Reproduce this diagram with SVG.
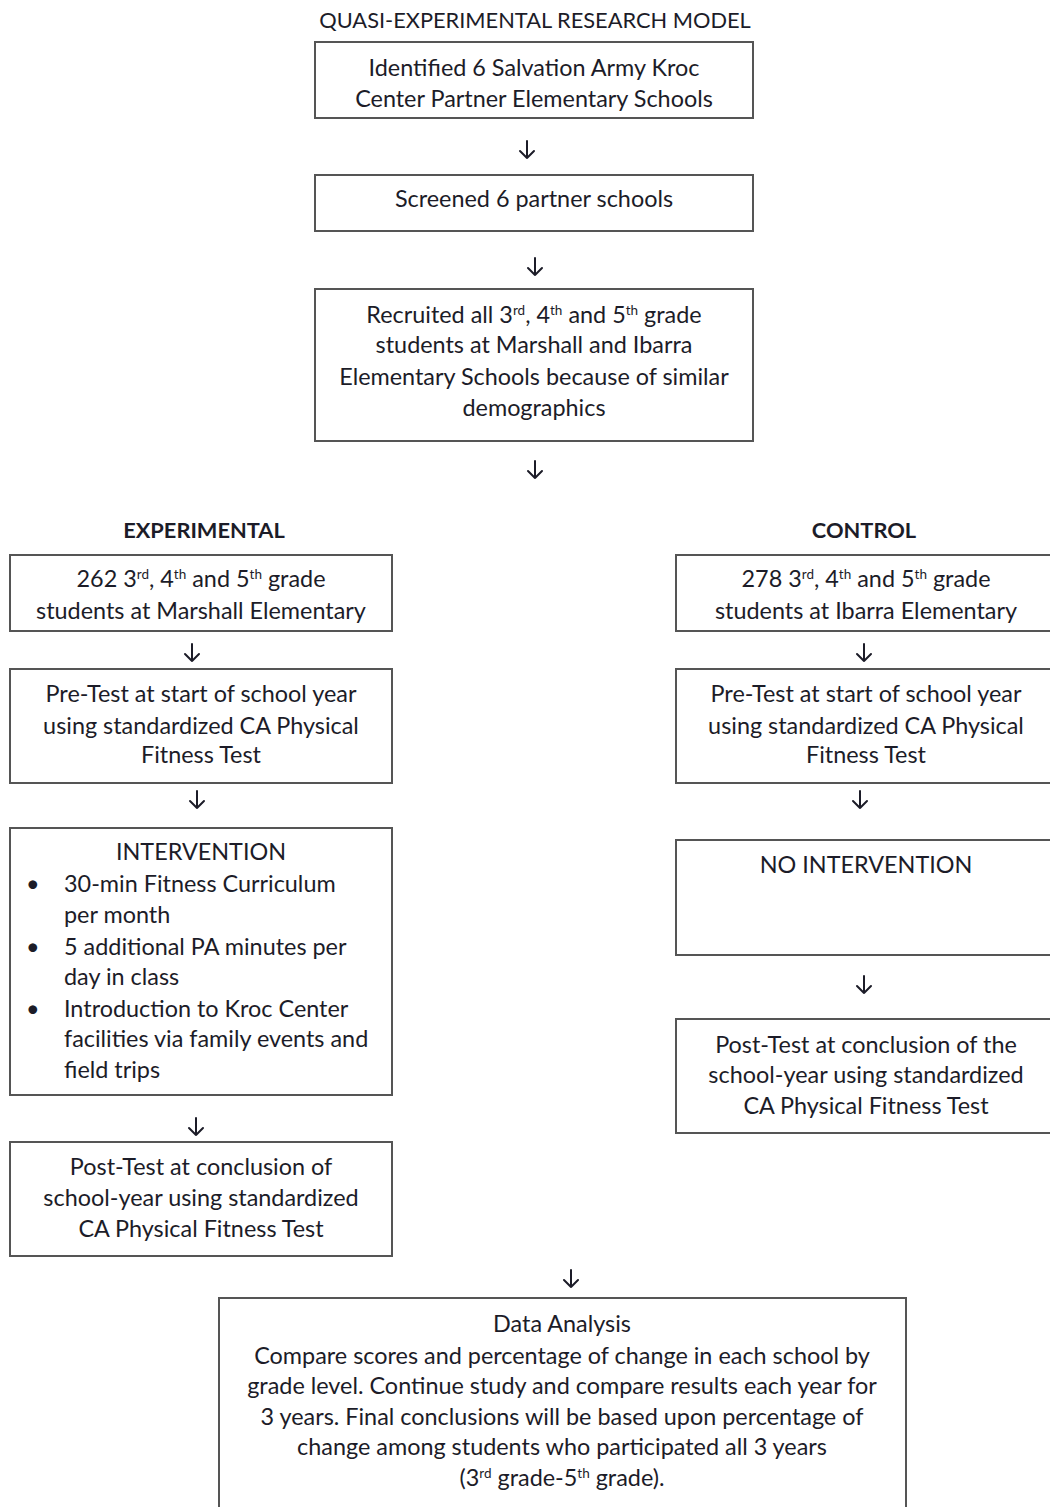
<svg xmlns="http://www.w3.org/2000/svg" width="1050" height="1507" viewBox="0 0 1050 1507">
<style>
text{font-family:Lato,"Open Sans","Liberation Sans",sans-serif;font-size:23.4px;fill:#1c1c28}
.c{text-anchor:middle}
.t{font-size:21.8px}
.b{font-weight:bold;font-size:21.8px}
.s{font-size:13.5px;baseline-shift:super}
rect{fill:#fff;stroke:#555;stroke-width:2}
.arr{fill:none;stroke:#1c1c28;stroke-width:2;stroke-linecap:round;stroke-linejoin:round}
</style>
<rect x="0" y="0" width="1050" height="1507" style="fill:#fff;stroke:none"/>
<text class="c t" x="535" y="28">QUASI-EXPERIMENTAL RESEARCH MODEL</text>
<g id="n1"><rect x="315" y="42" width="438" height="76"/>
<text class="c" x="534" y="76">Identified 6 Salvation Army Kroc</text>
<text class="c" x="534" y="107">Center Partner Elementary Schools</text></g>
<g id="n2"><rect x="315" y="175" width="438" height="56"/>
<text class="c" x="534" y="207">Screened 6 partner schools</text></g>
<g id="n3"><rect x="315" y="289" width="438" height="152"/>
<text class="c" x="534" y="323">Recruited all 3<tspan class="s">rd</tspan>, 4<tspan class="s">th</tspan> and 5<tspan class="s">th</tspan> grade</text>
<text class="c" x="534" y="353">students at Marshall and Ibarra</text>
<text class="c" x="534" y="385">Elementary Schools because of similar</text>
<text class="c" x="534" y="416">demographics</text></g>
<text class="c b" x="204" y="538">EXPERIMENTAL</text>
<text class="c b" x="864" y="538">CONTROL</text>
<g id="l1"><rect x="10" y="555" width="382" height="76"/>
<text class="c" x="201" y="587">262 3<tspan class="s">rd</tspan>, 4<tspan class="s">th</tspan> and 5<tspan class="s">th</tspan> grade</text>
<text class="c" x="201" y="619">students at Marshall Elementary</text></g>
<g id="l2"><rect x="10" y="669" width="382" height="114"/>
<text class="c" x="201" y="702">Pre-Test at start of school year</text>
<text class="c" x="201" y="734">using standardized CA Physical</text>
<text class="c" x="201" y="763">Fitness Test</text></g>
<g id="l3"><rect x="10" y="828" width="382" height="267"/>
<text class="c" x="201" y="860">INTERVENTION</text>
<text x="26" y="892">•</text><text x="64" y="892">30-min Fitness Curriculum</text>
<text x="64" y="923">per month</text>
<text x="26" y="955">•</text><text x="64" y="955">5 additional PA minutes per</text>
<text x="64" y="985">day in class</text>
<text x="26" y="1017">•</text><text x="64" y="1017">Introduction to Kroc Center</text>
<text x="64" y="1047">facilities via family events and</text>
<text x="64" y="1078">field trips</text></g>
<g id="l4"><rect x="10" y="1142" width="382" height="114"/>
<text class="c" x="201" y="1175">Post-Test at conclusion of</text>
<text class="c" x="201" y="1206">school-year using standardized</text>
<text class="c" x="201" y="1237">CA Physical Fitness Test</text></g>
<g id="r1"><rect x="676" y="555" width="400" height="76"/>
<text class="c" x="866" y="587">278 3<tspan class="s">rd</tspan>, 4<tspan class="s">th</tspan> and 5<tspan class="s">th</tspan> grade</text>
<text class="c" x="866" y="619">students at Ibarra Elementary</text></g>
<g id="r2"><rect x="676" y="669" width="400" height="114"/>
<text class="c" x="866" y="702">Pre-Test at start of school year</text>
<text class="c" x="866" y="734">using standardized CA Physical</text>
<text class="c" x="866" y="763">Fitness Test</text></g>
<g id="r3"><rect x="676" y="840" width="400" height="115"/>
<text class="c" x="866" y="873">NO INTERVENTION</text></g>
<g id="r4"><rect x="676" y="1019" width="400" height="114"/>
<text class="c" x="866" y="1053">Post-Test at conclusion of the</text>
<text class="c" x="866" y="1083">school-year using standardized</text>
<text class="c" x="866" y="1114">CA Physical Fitness Test</text></g>
<g id="n4"><rect x="219" y="1298" width="687" height="230"/>
<text class="c" x="562" y="1332">Data Analysis</text>
<text class="c" x="562" y="1364">Compare scores and percentage of change in each school by</text>
<text class="c" x="562" y="1394">grade level. Continue study and compare results each year for</text>
<text class="c" x="562" y="1425">3 years. Final conclusions will be based upon percentage of</text>
<text class="c" x="562" y="1455">change among students who participated all 3 years</text>
<text class="c" x="562" y="1486">(3<tspan class="s">rd</tspan> grade-5<tspan class="s">th</tspan> grade).</text></g>
<g id="connectors" class="arr">
<path class="arr" d="M527 141V158M520 151L527 158L534 151"/>
<path class="arr" d="M535 258V275M528 268L535 275L542 268"/>
<path class="arr" d="M535 461V478M528 471L535 478L542 471"/>
<path class="arr" d="M192 644V661M185 654L192 661L199 654"/>
<path class="arr" d="M197 791V808M190 801L197 808L204 801"/>
<path class="arr" d="M196 1118V1135M189 1128L196 1135L203 1128"/>
<path class="arr" d="M864 644V661M857 654L864 661L871 654"/>
<path class="arr" d="M860 791V808M853 801L860 808L867 801"/>
<path class="arr" d="M864 976V993M857 986L864 993L871 986"/>
<path class="arr" d="M571 1270V1287M564 1280L571 1287L578 1280"/>
</g>
</svg>
